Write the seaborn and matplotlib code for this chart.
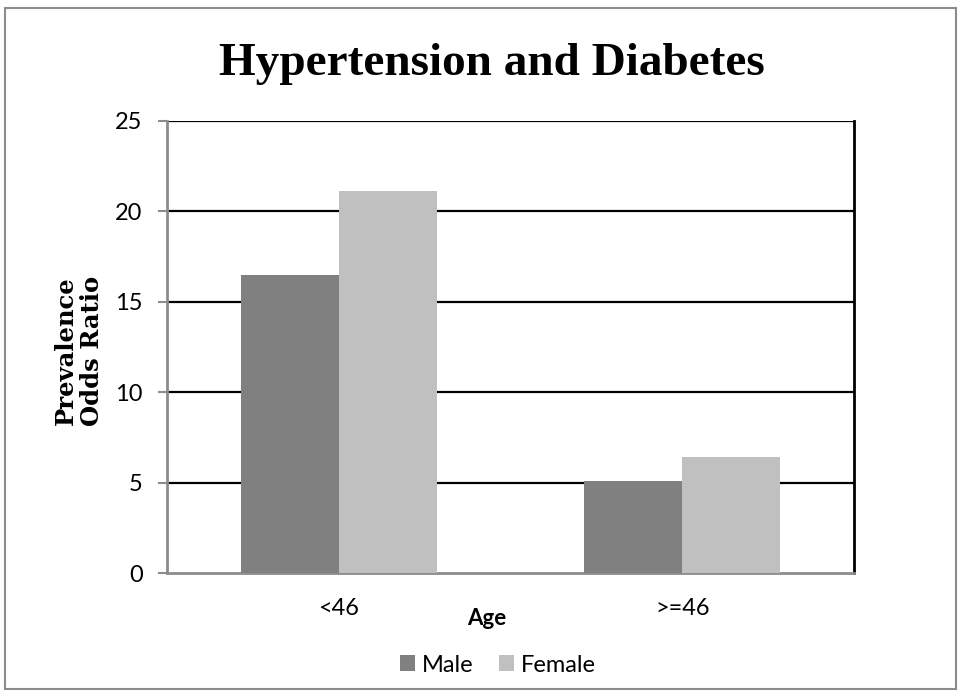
import matplotlib
matplotlib.use("Agg")
import matplotlib.pyplot as plt
import seaborn as sns
import pandas as pd
from matplotlib.patches import Rectangle

# Prevalence odds ratios by age group and sex
age_groups = ["<46", ">=46"]
sexes = ["Male", "Female"]
male_values = [16.5, 5.1]
female_values = [21.15, 6.4]
y_ticks = [0, 5, 10, 15, 20, 25]

df = pd.DataFrame({
    "Age": age_groups * 2,
    "Sex": ["Male"] * len(age_groups) + ["Female"] * len(age_groups),
    "Value": male_values + female_values,
})

sns.set_theme(style="white")
plt.rcParams["font.family"] = ["Lato", "DejaVu Sans"]
plt.rcParams["text.color"] = "black"
plt.rcParams["axes.labelcolor"] = "black"

W, H = 961, 691
fig = plt.figure(figsize=(W / 100, H / 100), dpi=100)
ax = fig.add_axes([167 / W, 1 - 573 / H, (854 - 167) / W, (573 - 121) / H])

palette = {"Male": "#808080", "Female": "#C0C0C0"}
sns.barplot(data=df, x="Age", y="Value", hue="Sex", hue_order=sexes,
            palette=palette, width=0.57, gap=0, linewidth=0,
            saturation=1, ax=ax, zorder=3, legend=True)

ax.set_ylim(0, 25)
ax.set_yticks(y_ticks)
ax.set_yticklabels([str(t) for t in y_ticks])
ax.set_xlim(-0.5, 1.5)
ax.tick_params(axis="x", labelsize=17, length=0, pad=18, labelcolor="black")
ax.tick_params(axis="y", labelsize=17, length=6.5, width=1.5, color="#8c8c8c",
               left=True, pad=11, labelcolor="black")

# Horizontal gridlines drawn in black
for t in y_ticks[1:]:
    ax.axhline(t, color="black", lw=1.6, zorder=2)

ax.spines["left"].set_color("#8c8c8c")
ax.spines["left"].set_linewidth(2)
ax.spines["bottom"].set_color("#8c8c8c")
ax.spines["bottom"].set_linewidth(2)
ax.spines["right"].set_color("black")
ax.spines["right"].set_linewidth(2)
ax.spines["top"].set_visible(False)
ax.set_xlabel("")
ax.set_ylabel("")

# Axis titles
fig.text(487 / W, 1 - 625 / H, "Age", ha="center", va="baseline",
         fontsize=16, fontweight="bold")
fig.text(79 / W, 1 - 351 / H, "Prevalence\nOdds Ratio", rotation=90,
         ha="center", va="center", multialignment="center",
         fontsize=17.5, fontweight="bold", family=["DejaVu Serif"],
         linespacing=1.1)

# Chart title
fig.text(492 / W, 1 - 75 / H, "Hypertension and Diabetes", ha="center",
         va="baseline", fontsize=34, fontweight="bold",
         family=["Liberation Serif"])

handles, labels = ax.get_legend_handles_labels()
ax.legend_.remove()
fig.legend(handles, labels, loc="center", bbox_to_anchor=(498 / W, 1 - 665 / H),
           ncol=2, frameon=False, fontsize=17, handlelength=0.64,
           handleheight=0.64, handletextpad=0.3, columnspacing=1.06,
           borderpad=0)

# Outer chart border
fig.patches.append(Rectangle((5 / W, 2 / H), (W - 10) / W, (H - 10) / H,
                             transform=fig.transFigure, fill=False,
                             edgecolor="#8c8c8c", lw=1.5))

fig.savefig("out.png", dpi=100)
